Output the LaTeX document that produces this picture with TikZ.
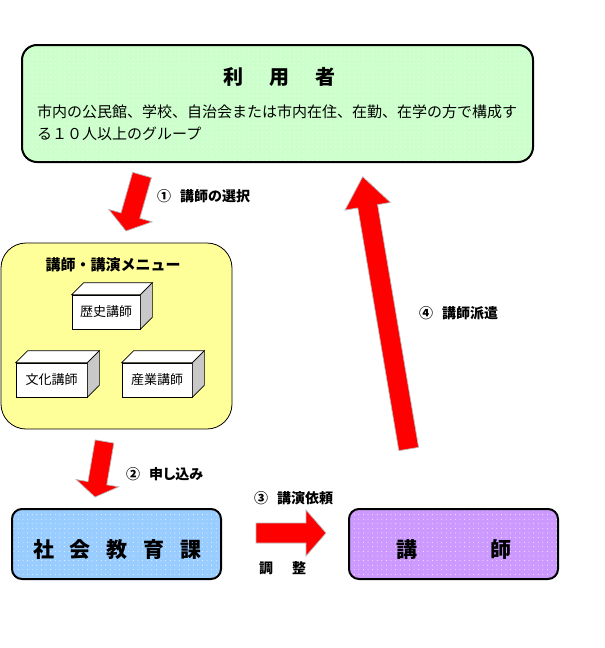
\documentclass[tikz,border=0pt]{standalone}
\usepackage{fontspec}
\setmainfont{Noto Sans CJK JP}
\newfontfamily\jpp[RawFeature=+palt]{Noto Sans CJK JP}
\usetikzlibrary{calc,patterns.meta}
\definecolor{usergreen}{HTML}{CCFFCC}
\definecolor{menuyellow}{HTML}{FFFF99}
\definecolor{shakaiblue}{HTML}{99CCFF}
\definecolor{koushipurple}{HTML}{CC99FF}
\definecolor{sidegray}{HTML}{C8C8C8}
\newcommand\bArrow[5]{%
  \coordinate (baA) at (#1);
  \coordinate (baB) at (#2);
  \coordinate (baH) at ($(baB)!#5!(baA)$);
  \filldraw[blockarrow] ($(baA)!#3!90:(baB)$) -- ($(baH)!#3!90:(baB)$) -- ($(baH)!#4!90:(baB)$) -- (baB) -- ($(baH)!#4!-90:(baB)$) -- ($(baH)!#3!-90:(baB)$) -- ($(baA)!#3!-90:(baB)$) -- cycle;}
\newcommand\cubeFaces[1]{%
  \filldraw[cubeline, fill=white] (#1.north west) -- ($(#1.north west)+(12,-12)$) -- ($(#1.north east)+(12,-12)$) -- (#1.north east) -- cycle;
  \filldraw[cubeline, fill=sidegray] (#1.north east) -- ($(#1.north east)+(12,-12)$) -- ($(#1.south east)+(12,-12)$) -- (#1.south east) -- cycle;}
\begin{document}
\begin{tikzpicture}[x=1pt,y=-1pt,
  dotted box/.style={draw, line width=2pt, preaction={fill=#1}, pattern={Dots[distance=4.6pt,radius=0.45pt]}, pattern color=white},
  userbox/.style={dotted box=usergreen, rounded corners=15pt, minimum width=511pt, minimum height=117pt},
  deptbox/.style={dotted box=#1, rounded corners=10pt, minimum width=209pt, minimum height=70pt},
  menubox/.style={draw, line width=0.8pt, fill=menuyellow, rounded corners=25pt, minimum width=231pt, minimum height=186pt},
  cubeline/.style={draw, line width=0.7pt, line join=miter},
  cubefront/.style={cubeline, fill=white, minimum height=34pt, inner sep=0pt, font=\fontsize{13}{15}\selectfont},
  txt/.style={inner sep=0pt},
  bodytext/.style={txt, anchor=west, font=\fontsize{15}{18}\selectfont},
  lbl/.style={txt, anchor=west, font=\fontsize{14}{16}\selectfont\bfseries},
  bigtext/.style={txt, font=\fontsize{21}{24}\selectfont\bfseries},
  blockarrow/.style={fill=red, draw=gray!55, line width=0.7pt, line join=miter}]
\useasboundingbox (0,0) rectangle (605,648);

% user box
\node[userbox] (user) at (277.5,103.5) {};
\node[txt, font=\fontsize{20}{24}\selectfont\bfseries] (usertitle) at (279,77) {利\hspace{26pt}用\hspace{26pt}者};
\node[bodytext] (userl1) at (37,112) {市内の公民館、学校、自治会または市内在住、在勤、在学の方で構成す};
\node[bodytext] (userl2) at (37,134) {る１０人以上のグループ};

% menu box
\node[menubox] (menu) at (116.5,336) {};
\node[txt, font=\fontsize{15}{18}\selectfont\bfseries] (menutitle) at (113,265) {講師・講演メニュー};
\node[cubefront, minimum width=68pt] (rekishi) at (106,312) {歴史講師};
\cubeFaces{rekishi}
\node[cubefront, minimum width=71pt] (bunka) at (51.5,380) {文化講師};
\cubeFaces{bunka}
\node[cubefront, minimum width=70pt] (sangyo) at (157,380) {産業講師};
\cubeFaces{sangyo}

% bottom boxes
\node[deptbox=shakaiblue] (shakai) at (116.5,544) {};
\node[bigtext] (shakaitext) at (117.5,550) {社\hspace{16pt}会\hspace{16pt}教\hspace{16pt}育\hspace{16pt}課};
\node[deptbox=koushipurple] (koushi) at (453.5,544) {};
\node[bigtext] (koushitext) at (454,550) {講\hspace{73pt}師};

% block arrows
\coordinate (a1s) at (142,175);
\coordinate (a1e) at (126,231);
\bArrow{a1s}{a1e}{9.75pt}{22.5pt}{16pt}
\coordinate (a2s) at (104.5,441.5);
\coordinate (a2e) at (95,497);
\bArrow{a2s}{a2e}{9.5pt}{21.5pt}{14pt}
\coordinate (a3s) at (256,533);
\coordinate (a3e) at (326,533);
\bArrow{a3s}{a3e}{10pt}{23pt}{20pt}
\coordinate (a4s) at (408.7,449);
\coordinate (a4e) at (362.7,176.7);
\bArrow{a4s}{a4e}{10pt}{23pt}{30pt}

% labels
\node[lbl] (l1) at (157,196) {①\hspace{9pt}講師の選択};
\node[lbl] (l2) at (126,474) {②\hspace{9pt}{\jpp 申し込み}};
\node[lbl] (l3) at (254,498) {③\hspace{9pt}講演依頼};
\node[lbl] (l4) at (419,313) {④\hspace{9pt}講師派遣};
\node[lbl] (l5) at (259,568) {調\hspace{19pt}整};
\end{tikzpicture}
\end{document}
